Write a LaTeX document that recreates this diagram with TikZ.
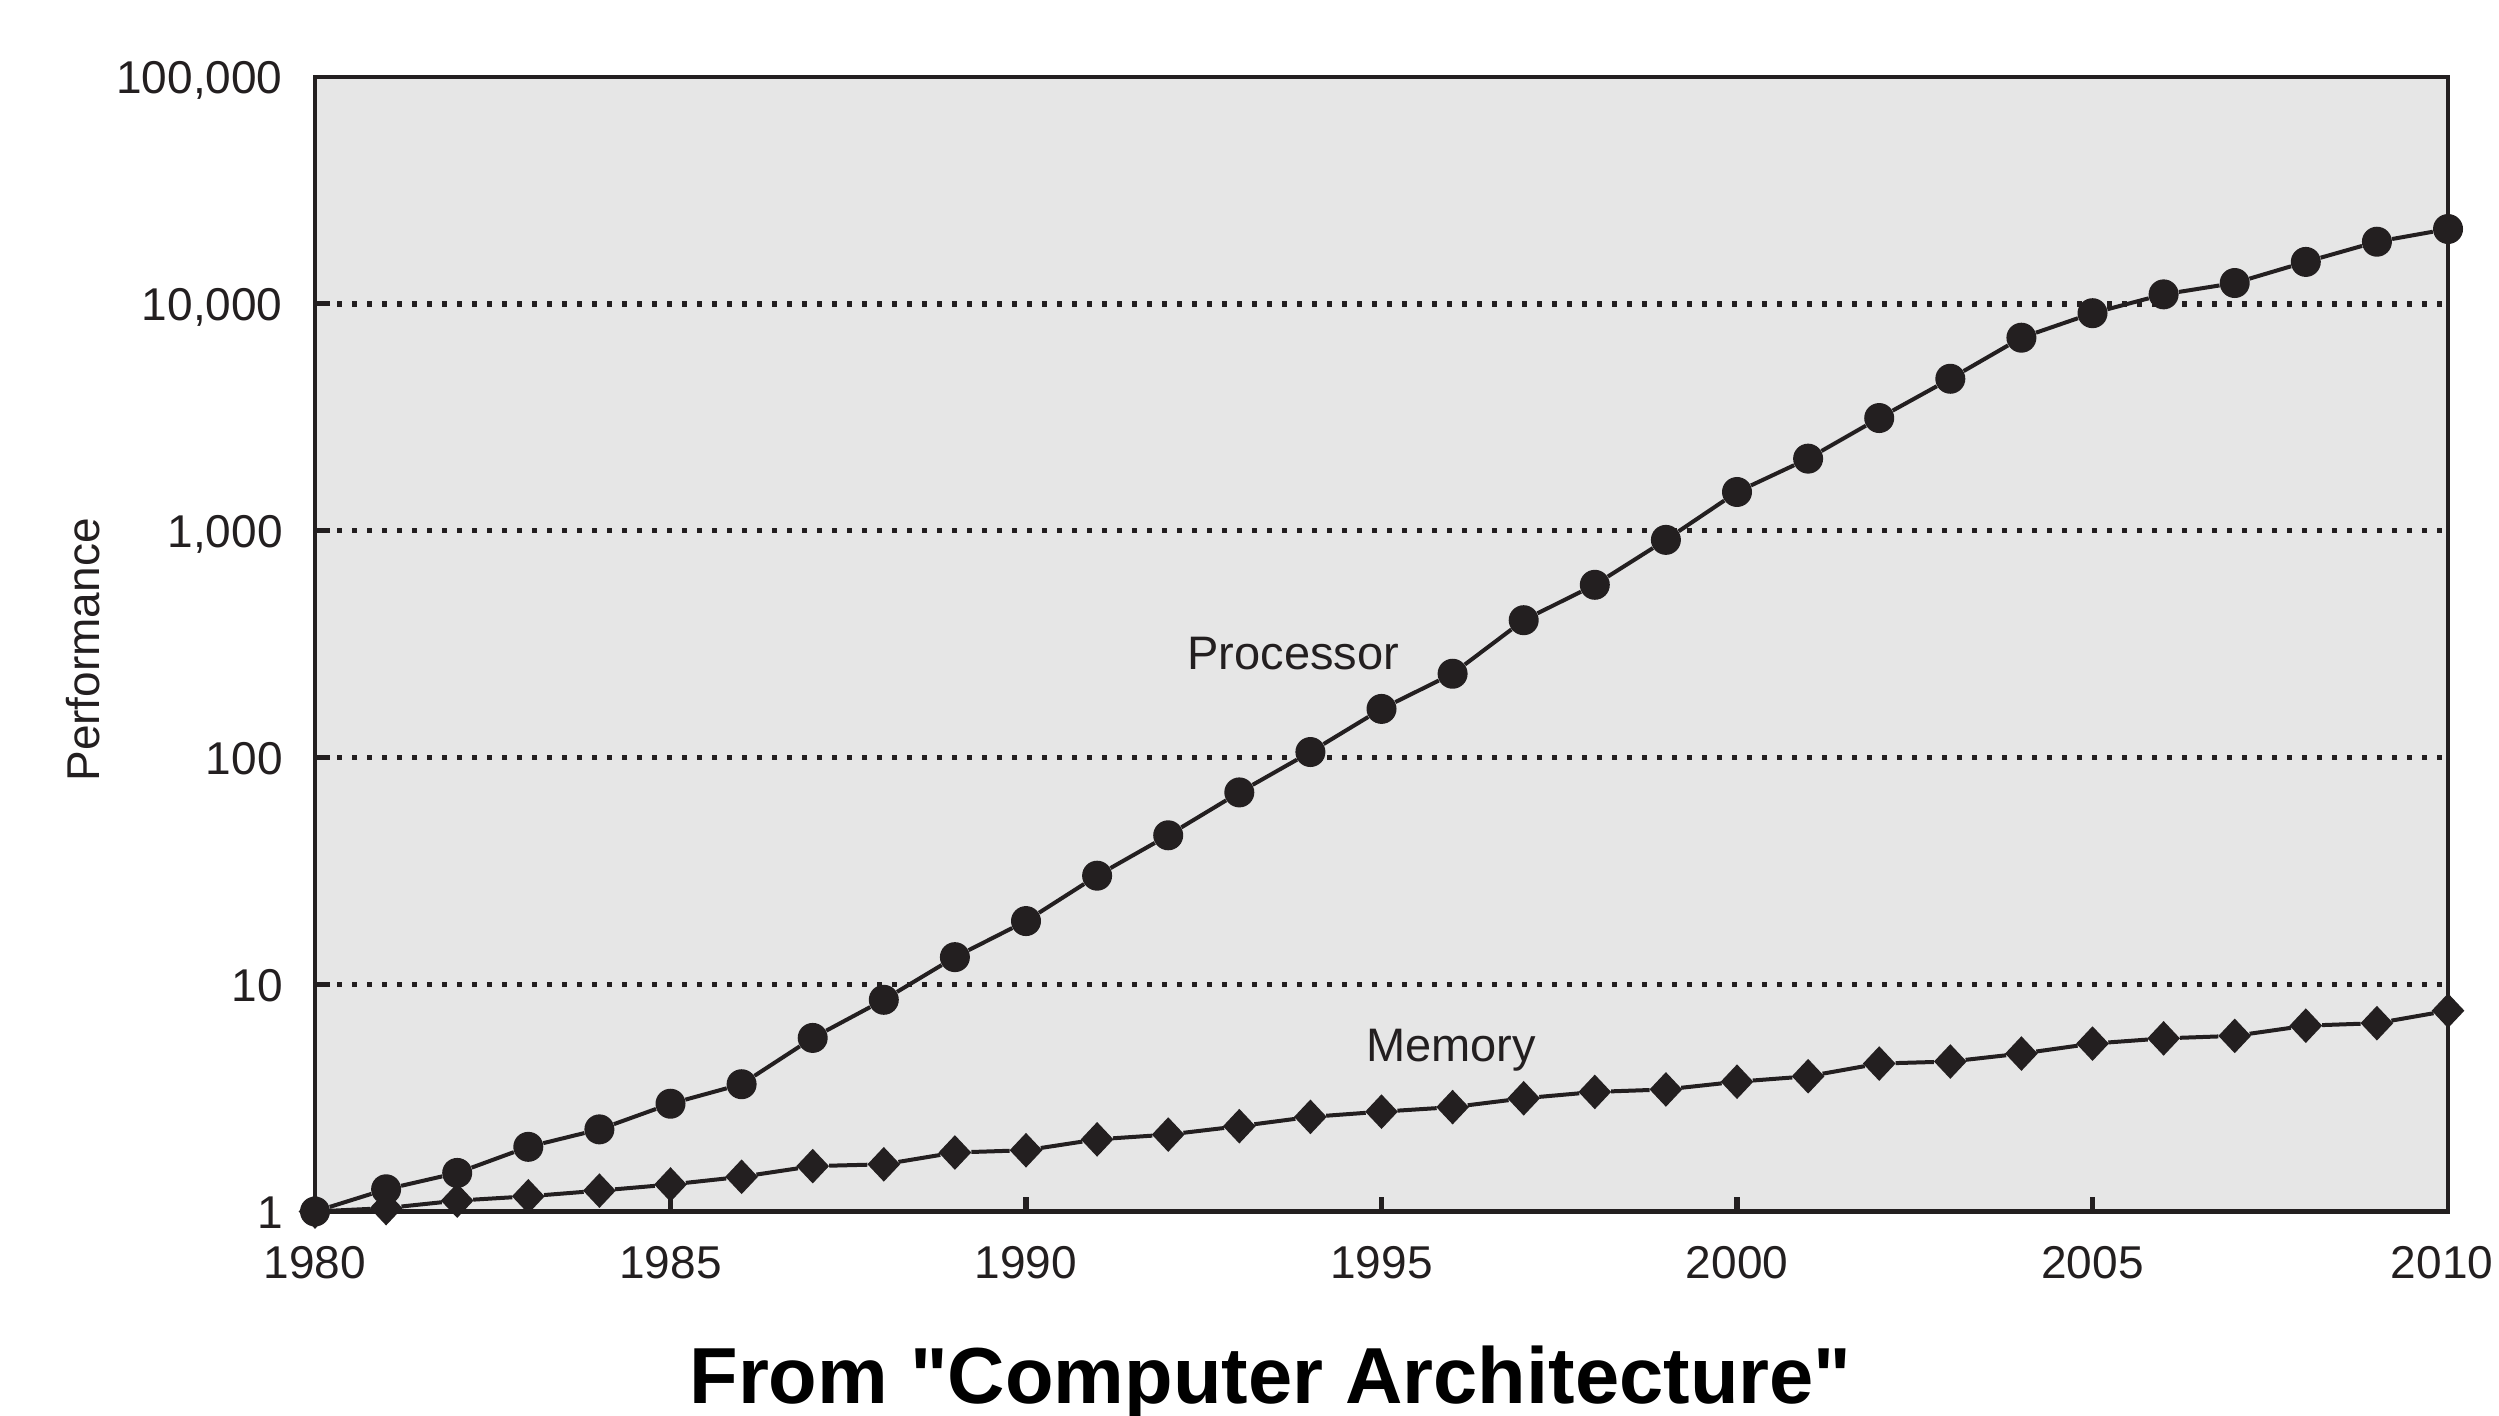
\documentclass[tikz,border=0pt]{standalone}
\usepackage{fontspec}
\setmainfont{Liberation Sans}[Ligatures=TeXOff]
\usetikzlibrary{shapes.geometric}
\definecolor{ink}{HTML}{231F20}
\definecolor{panel}{HTML}{E6E6E6}

\begin{document}
\begin{tikzpicture}[x=35.55pt,y=113.45pt,
  procmark/.style={circle, fill=ink, inner sep=0pt, minimum size=15pt},
  memmark/.style={diamond, fill=ink, inner sep=0pt, minimum width=16.5pt, minimum height=17.5pt},
  dataline/.style={draw=ink, line width=2pt},
  axisline/.style={draw=ink, line width=2.3pt},
  tickline/.style={draw=ink, line width=2.6pt},
  gridline/.style={draw=ink, line width=2.7pt, dash pattern=on 2.7pt off 4.8pt},
  ticklabel/.style={font=\fontsize{23}{27}\selectfont, text=ink, inner sep=0pt},
  serieslabel/.style={font=\fontsize{23.5}{28}\selectfont, text=ink, inner sep=0pt}]

% page and plot panel
\useasboundingbox[fill=white] (-157.5pt,-101.75pt) rectangle (1092pt,605.75pt);
\path[fill=panel] (0,0) rectangle (30,5);

% decade gridlines with a short solid tick at the left axis
\foreach \d in {1,...,4} {
  \draw[tickline] (0,\d) -- ++(7.5pt,0);
  \draw[gridline] ([xshift=11pt]0,\d) -- (30,\d);
}

% year ticks on the horizontal axis
\foreach \t in {5,10,15,20,25}
  \draw[tickline] (\t,0) -- ++(0,7.5pt);

% frame
\draw[axisline] (0,0) rectangle (30,5);

% axis labels
\foreach \d/\lab in {0/1, 1/10, 2/100, 3/{1,000}, 4/{10,000}, 5/{100,000}}
  \node[ticklabel, anchor=base east] (ylab\d) at ([shift={(-16pt,-8.5pt)}]0,\d) {\lab};
\foreach \yr in {1980,1985,...,2005}
  \node[ticklabel, anchor=base] (xlab\yr) at ([yshift=-33.5pt]{\yr-1980},0) {\yr};
\node[ticklabel, anchor=base] (xlab2010) at ([shift={(-3pt,-33.5pt)}]30,0) {2010};
\node[ticklabel, rotate=90, anchor=base] (ytitle) at (-107.5pt,280.75pt) {Performance};

% processor performance (log10 of relative performance)
\foreach \yr/\v in {1980/0, 1981/0.098, 1982/0.170, 1983/0.285, 1984/0.362,
    1985/0.475, 1986/0.561, 1987/0.765, 1988/0.933, 1989/1.121, 1990/1.280,
    1991/1.480, 1992/1.658, 1993/1.847, 1994/2.025, 1995/2.215, 1996/2.370,
    1997/2.606, 1998/2.762, 1999/2.960, 2000/3.171, 2001/3.318, 2002/3.497,
    2003/3.670, 2004/3.851, 2005/3.959, 2006/4.042, 2007/4.092, 2008/4.185,
    2009/4.274, 2010/4.330}
  \node[procmark] (p\yr) at ({\yr-1980},\v) {};
\foreach \yr [remember=\yr as \prev (initially 1980)] in {1981,...,2010}
  \draw[dataline] (p\prev) -- (p\yr);

% memory performance (log10 of relative performance)
\foreach \yr/\v in {1980/0, 1981/0.015, 1982/0.048, 1983/0.067, 1984/0.092,
    1985/0.119, 1986/0.153, 1987/0.200, 1988/0.208, 1989/0.260, 1990/0.270,
    1991/0.318, 1992/0.339, 1993/0.376, 1994/0.417, 1995/0.440, 1996/0.460,
    1997/0.499, 1998/0.527, 1999/0.538, 2000/0.572, 2001/0.596, 2002/0.652,
    2003/0.661, 2004/0.696, 2005/0.740, 2006/0.763, 2007/0.774, 2008/0.819,
    2009/0.830, 2010/0.885}
  \node[memmark] (m\yr) at ({\yr-1980},\v) {};
\foreach \yr [remember=\yr as \prev (initially 1980)] in {1981,...,2010}
  \draw[dataline] (m\prev) -- (m\yr);

% series labels
\node[serieslabel, anchor=base west] (proclabel) at (436pt,271.25pt) {Processor};
\node[serieslabel, anchor=base west] (memlabel) at (525.5pt,75.25pt) {Memory};

% caption
\node[font=\bfseries\fontsize{39.75}{44}\selectfont, anchor=base, inner sep=0pt]
  (caption) at (477.75pt,-95.75pt) {From "Computer Architecture"};
\end{tikzpicture}
\end{document}
